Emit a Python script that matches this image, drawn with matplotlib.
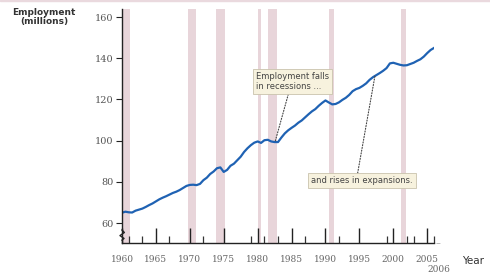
import numpy as np
import matplotlib
matplotlib.use('Agg')
import matplotlib.pyplot as plt

# civilian employment (millions), half-year steps
years = np.arange(1960.0, 2006.01, 0.5)
employment = [65.0, 65.5, 65.2, 65.1, 66.0, 66.5, 67.0, 67.8, 68.7, 69.5,
              70.5, 71.5, 72.3, 73.0, 73.8, 74.6, 75.2, 76.0, 77.0, 78.0,
              78.5, 78.6, 78.4, 79.0, 80.8, 82.0, 83.8, 85.0, 86.6, 87.0,
              84.8, 85.8, 87.8, 88.8, 90.5, 92.2, 94.5, 96.3, 97.8, 99.0,
              99.6, 98.9, 100.2, 100.4, 99.6, 99.3, 99.3, 101.5, 103.5, 105.0,
              106.2, 107.3, 108.7, 109.8, 111.3, 112.8, 114.2, 115.3, 116.9, 118.3,
              119.5, 118.5, 117.6, 117.8, 118.6, 119.8, 120.8, 122.2, 124.0, 125.0,
              125.6, 126.6, 127.8, 129.5, 130.8, 131.8, 132.8, 133.9, 135.2, 137.5,
              137.8, 137.3, 136.8, 136.5, 136.6, 137.2, 137.8, 138.7, 139.5, 140.8,
              142.5, 144.0, 145.0]

recession_start = [1960.0, 1969.8, 1973.8, 1980.0, 1981.5, 1990.5, 2001.2]
recession_end = [1961.2, 1970.9, 1975.2, 1980.5, 1982.9, 1991.3, 2001.9]

y_ticks = [60, 80, 100, 120, 140, 160]
major_years = [1960, 1965, 1970, 1975, 1980, 1985, 1990, 1995, 2000, 2005]
minor_years = [1961, 1963, 1967, 1972, 1979, 1981, 1983, 1987, 1992, 1999, 2002, 2003, 2006]

W, H = 490, 276
fig = plt.figure(figsize=(W / 100, H / 100), dpi=100)
ax = fig.add_axes([122 / W, (H - 243) / H, 312 / W, 234 / H])
ax.set_xlim(1960, 2006)
ymin, ymax = 50.3, 163.9
ax.set_ylim(ymin, ymax)

for s, e in zip(recession_start, recession_end):
    ax.axvspan(s, e, color='#e8d5da', lw=0, zorder=0)

ax.plot(years, employment, color='#1f62b3', lw=1.6, zorder=3)

for sp in ['top', 'right', 'left']:
    ax.spines[sp].set_visible(False)
ax.spines['bottom'].set_color('#222222')
ax.spines['bottom'].set_linewidth(1.0)

# left axis with break
kw = dict(color='#222222', lw=1.0, clip_on=False, zorder=4)
ax.plot([1960, 1960], [ymax, 56.6], **kw)
ax.plot([1960, 1960.35, 1959.7, 1960.3, 1960], [56.6, 55.4, 53.9, 52.5, 51.7], **kw)
ax.plot([1960, 1960], [51.7, ymin], **kw)

ax.set_yticks(y_ticks)
ax.tick_params(axis='y', direction='out', length=4, width=0.8, color='#222222',
               labelsize=7, labelcolor='#555555', pad=2)
ax.set_yticklabels([str(v) for v in y_ticks], family='DejaVu Serif')

ax.set_xticks(major_years)
ax.set_xticklabels([str(y) for y in major_years], family='DejaVu Serif')
ax.tick_params(axis='x', direction='in', length=11, width=1.0, color='#222222',
               labelsize=6.5, labelcolor='#666666', pad=9)
ax.set_xticks(minor_years, minor=True)
ax.tick_params(axis='x', which='minor', direction='in', length=5, width=0.9, color='#333333')

ax.text(2006.2, ymin, '\u2013', color='#aaaaaa', fontsize=7, va='center', ha='left')
fig.text(462 / W, 1 - 261 / H, 'Year', fontsize=7.5, color='#333333', ha='left', va='center')
fig.text(439 / W, 1 - 270 / H, '2006', fontsize=6.5, color='#666666', ha='center',
         va='center', family='DejaVu Serif')
fig.text(44 / W, 1 - 17 / H, 'Employment\n(millions)', fontsize=6.5, fontweight='bold',
         color='#333333', ha='center', va='center', linespacing=1.1)

box = dict(boxstyle='square,pad=0.35', fc='#f7f2de', ec='#c9c3ad', lw=0.6)
ax.annotate('Employment falls\nin recessions ...', xy=(1982.6, 99.8),
            xytext=(1979.8, 133.5), fontsize=6, color='#444444', ha='left', va='top',
            linespacing=1.2, bbox=box,
            arrowprops=dict(arrowstyle='-', ls=(0, (1, 1.5)), color='#444444', lw=0.8,
                            shrinkA=0, shrinkB=0, relpos=(0.45, 0)))
ax.annotate('and rises in expansions.', xy=(1997.3, 131.5),
            xytext=(2002.9, 80.5), fontsize=6, color='#444444', ha='right', va='center',
            bbox=box,
            arrowprops=dict(arrowstyle='-', ls=(0, (1, 1.5)), color='#444444', lw=0.8,
                            shrinkA=0, shrinkB=0, relpos=(0.45, 1)))

fig.patches.append(plt.Rectangle((0, 0.997), 1, 0.003, transform=fig.transFigure,
                                 color='#ead9de', zorder=0))
fig.savefig('out.png', dpi=100)
